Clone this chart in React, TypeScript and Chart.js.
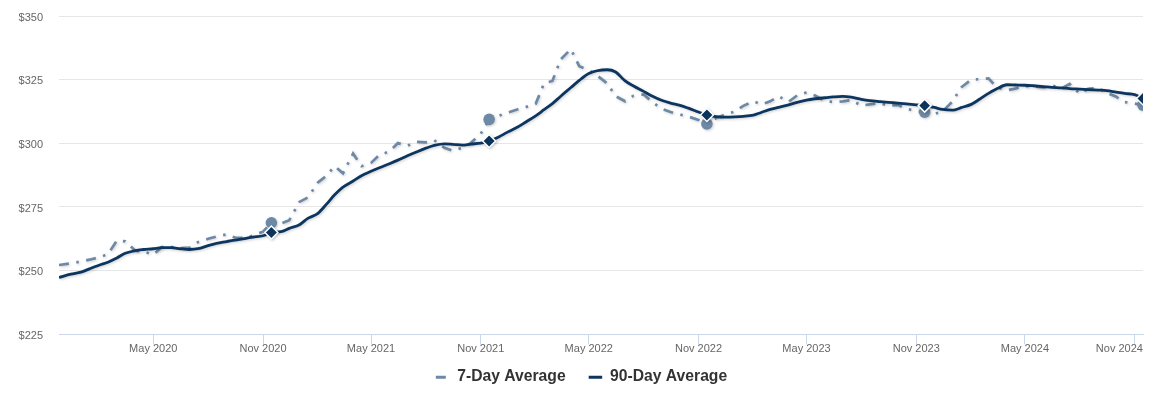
import React, { useEffect, useRef } from "react";
import { Chart, registerables } from "chart.js";

Chart.register(...registerables);

// x categories: first reading, then two readings per month (1st and 15th)
const firstDate = "2019-11-25";
const months = [
  "2019-12",
  "2020-01", "2020-02", "2020-03", "2020-04", "2020-05", "2020-06",
  "2020-07", "2020-08", "2020-09", "2020-10", "2020-11", "2020-12",
  "2021-01", "2021-02", "2021-03", "2021-04", "2021-05", "2021-06",
  "2021-07", "2021-08", "2021-09", "2021-10", "2021-11", "2021-12",
  "2022-01", "2022-02", "2022-03", "2022-04", "2022-05", "2022-06",
  "2022-07", "2022-08", "2022-09", "2022-10", "2022-11", "2022-12",
  "2023-01", "2023-02", "2023-03", "2023-04", "2023-05", "2023-06",
  "2023-07", "2023-08", "2023-09", "2023-10", "2023-11", "2023-12",
  "2024-01", "2024-02", "2024-03", "2024-04", "2024-05", "2024-06",
  "2024-07", "2024-08", "2024-09", "2024-10", "2024-11",
];
const dayOfMonth = ["01", "15"];

// 7-Day Average (first reading, then two values per month after the first month)
const values7 = [
  252.2, 252.9,
  253.6, 254.3, 255.3, 256.5, 261.8, 261.5, 257.8, 257.5, 256.3, 259.2, 259.2, 258.8,
  259.0, 261.2, 262.5, 263.4, 264.2, 263.0, 262.8, 263.8, 265.3, 268.8, 268.5, 269.8,
  277.0, 278.7, 284.6, 287.2, 291.0, 288.2, 296.0, 291.0, 292.3, 295.4, 296.8, 300.1,
  299.0, 300.6, 300.4, 301.2, 298.2, 297.1, 298.2, 300.1, 303.8, 309.4, 310.8, 312.0,
  313.3, 314.2, 315.5, 323.5, 324.5, 333.0, 337.0, 330.3, 328.8, 326.6, 323.5, 318.5,
  316.5, 318.7, 319.2, 316.3, 313.5, 312.3, 311.3, 310.5, 309.2, 307.6, 310.0, 311.2,
  312.5, 314.7, 316.5, 315.3, 316.5, 318.5, 316.3, 318.8, 320.0, 318.8, 316.7, 316.2,
  316.5, 317.0, 314.8, 315.3, 315.8, 314.7, 315.1, 313.5, 312.8, 312.2, 311.5, 312.5,
  316.5, 321.9, 325.0, 325.2, 325.5, 322.0, 320.8, 321.5, 322.5, 322.3, 322.0, 322.8,
  321.5, 323.3, 319.5, 321.4, 321.8, 319.8, 318.3, 316.2, 315.6, 315.0,
];

// 90-Day Average
const values90 = [
  247.3, 248.6,
  249.4, 250.7, 252.2, 253.3, 255.0, 256.8, 257.9, 258.3, 258.6, 259.0, 259.0, 258.6,
  258.3, 258.6, 259.8, 260.7, 261.4, 262.0, 262.6, 263.2, 263.7, 265.0, 265.3, 266.6,
  268.0, 270.5, 272.5, 276.0, 279.8, 282.8, 285.2, 287.3, 289.0, 290.4, 292.0, 293.4,
  295.1, 296.5, 298.1, 299.2, 299.8, 299.6, 299.3, 299.7, 300.1, 300.9, 302.5, 304.3,
  306.3, 308.3, 310.8, 313.2, 315.6, 318.5, 321.9, 324.7, 327.4, 328.5, 328.9, 328.0,
  324.5, 322.5, 320.4, 318.6, 316.8, 315.8, 314.9, 313.8, 312.3, 311.1, 310.5, 310.3,
  310.4, 310.6, 311.1, 312.2, 313.3, 314.1, 315.1, 316.1, 317.0, 317.5, 317.9, 318.2,
  318.4, 318.1, 317.3, 316.8, 316.4, 316.1, 315.8, 315.5, 315.1, 314.8, 314.1, 313.3,
  313.0, 314.0, 315.3, 317.3, 319.6, 321.4, 323.0, 322.9, 322.8, 322.6, 322.3, 322.0,
  321.8, 321.5, 321.3, 321.1, 320.9, 320.7, 320.1, 319.6, 319.1, 317.6,
];

const markerDay = "11-15";
const tickDates = [
  "2020-05-01", "2020-11-01", "2021-05-01", "2021-11-01", "2022-05-01",
  "2022-11-01", "2023-05-01", "2023-11-01", "2024-05-01", "2024-11-01",
];
const tickLabels = [
  "May 2020", "Nov 2020", "May 2021", "Nov 2021", "May 2022",
  "Nov 2022", "May 2023", "Nov 2023", "May 2024", "Nov 2024",
];
const yTicks = [225, 250, 275, 300, 325, 350];
const seriesNames = ["7-Day Average", "90-Day Average"];

const FONT = '"Liberation Sans", Arial, Helvetica, sans-serif';
const COLOR_7 = "#6d89a5";
const COLOR_90 = "#0c3660";
const DASH_7 = [10, 7.5, 2.5, 7.5];

const toDay = (s: string) => {
  const [y, m, d] = s.split("-").map(Number);
  return Date.UTC(y, m - 1, d) / 86400000;
};

// the first grid slot (Dec 1) is replaced by the first reading date
const dates = [
  firstDate,
  ...months.flatMap((m) => dayOfMonth.map((d) => `${m}-${d}`)).slice(1),
];
const isMarker = (i: number) => !!dates[i] && dates[i].endsWith(markerDay);

const shadowPlugin = {
  id: "lineShadow",
  beforeDatasetDraw(chart: any) {
    const c = chart.ctx;
    c.save();
    c.shadowColor = "rgba(0,0,0,0.2)";
    c.shadowBlur = 3;
    c.shadowOffsetX = 1;
    c.shadowOffsetY = 1;
  },
  afterDatasetDraw(chart: any) {
    chart.ctx.restore();
  },
};

export default function App() {
  const canvasRef = useRef<HTMLCanvasElement | null>(null);

  useEffect(() => {
    if (!canvasRef.current) return;
    const chart = new Chart(canvasRef.current, {
      type: "line",
      data: {
        datasets: [
          {
            label: seriesNames[1],
            data: dates.map((d, i) => ({ x: toDay(d), y: values90[i] })),
            borderColor: COLOR_90,
            backgroundColor: COLOR_90,
            borderWidth: 2.8,
            cubicInterpolationMode: "monotone",
            pointStyle: "rectRot",
            pointRadius: (ctx: any) => (isMarker(ctx.dataIndex) ? 6.5 : 0),
            pointBorderColor: "#ffffff",
            pointBorderWidth: 1.5,
            pointBackgroundColor: COLOR_90,
            fill: false,
          },
          {
            label: seriesNames[0],
            data: dates.map((d, i) => ({ x: toDay(d), y: values7[i] })),
            borderColor: COLOR_7,
            backgroundColor: COLOR_7,
            borderWidth: 2.7,
            borderDash: DASH_7,
            tension: 0,
            pointStyle: "circle",
            pointRadius: (ctx: any) => (isMarker(ctx.dataIndex) ? 5.8 : 0),
            pointBorderWidth: 0,
            pointBackgroundColor: COLOR_7,
            fill: false,
          },
        ],
      },
      options: {
        animation: false,
        responsive: true,
        maintainAspectRatio: false,
        layout: { padding: { top: 8, right: 6, left: 10, bottom: -6 } },
        plugins: {
          legend: {
            position: "bottom",
            labels: {
              usePointStyle: true,
              pointStyle: "line",
              pointStyleWidth: 13.5,
              padding: 10,
              color: "#333333",
              font: { family: FONT, size: 15.7, weight: "bold" },
              generateLabels: (ch: any) =>
                ch.data.datasets.map((ds: any, i: number) => ({
                  text: ds.label === seriesNames[0] ? ds.label + "\u00a0\u00a0\u00a0" : ds.label,
                  datasetIndex: i,
                  fillStyle: ds.borderColor,
                  strokeStyle: ds.borderColor,
                  fontColor: "#333333",
                  lineWidth: 3,
                  lineDash: ds.borderDash || [],
                  lineCap: "butt",
                  pointStyle: "line",
                  hidden: false,
                })),
              sort: (a: any, b: any) => b.datasetIndex - a.datasetIndex,
            },
          },
          tooltip: { enabled: false },
        },
        scales: {
          x: {
            type: "linear",
            min: toDay(dates[0]),
            max: toDay(dates[dates.length - 1]),
            afterBuildTicks: (s: any) => {
              s.ticks = tickDates.map((d) => ({ value: toDay(d) }));
            },
            afterFit: (s: any) => {
              s.height = 25;
              s.paddingLeft = 0;
              s.paddingRight = 0;
            },
            ticks: {
              autoSkip: false,
              maxRotation: 0,
              minRotation: 0,
              padding: -1.6,
              color: "#666666",
              font: { family: FONT, size: 11 },
              callback: (_v: any, i: number) =>
                i === tickLabels.length - 1
                  ? tickLabels[i] + "\u00a0".repeat(10)
                  : tickLabels[i],
            },
            grid: {
              drawOnChartArea: false,
              drawTicks: true,
              tickLength: 10,
              color: "#ccd6eb",
            },
            border: { display: true, color: "#ccd6eb" },
          },
          y: {
            min: 225,
            max: 350,
            afterBuildTicks: (s: any) => {
              s.ticks = yTicks.map((v) => ({ value: v }));
            },
            afterFit: (s: any) => {
              s.width = 41;
              s.paddingTop = 0;
              s.paddingBottom = 0;
            },
            ticks: {
              padding: 16,
              labelOffset: 1.5,
              color: "#666666",
              font: { family: FONT, size: 11 },
              callback: (v: any) => "$" + v,
            },
            grid: { color: "#e6e6e6", drawTicks: false },
            border: { display: false },
          },
        },
      },
      plugins: [shadowPlugin],
    } as any);
    return () => chart.destroy();
  }, []);

  return (
    <div style={{ position: "relative", width: "1143px", height: "381px" }}>
      <canvas ref={canvasRef} />
    </div>
  );
}
